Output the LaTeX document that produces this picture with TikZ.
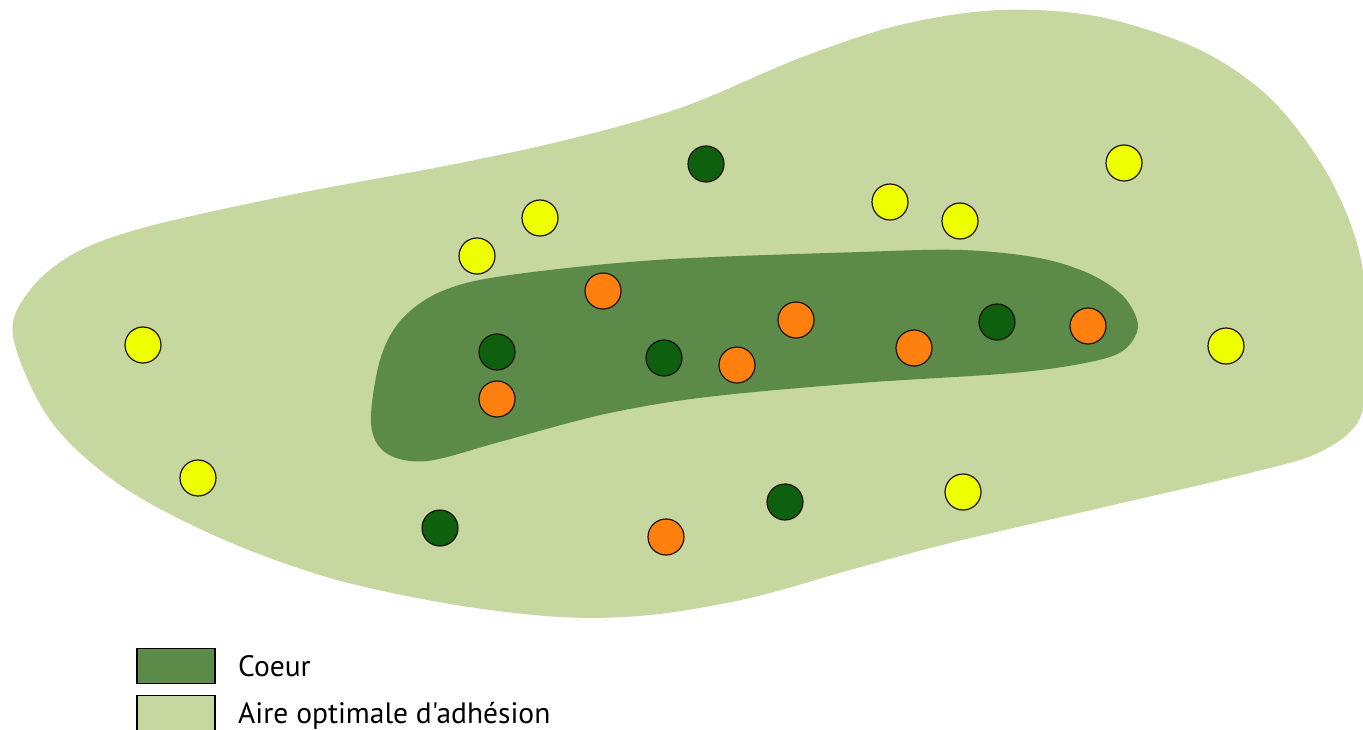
\documentclass[tikz,border=0pt]{standalone}
\usepackage{fontspec}
\newfontfamily\legfont{PT Sans}[Ligatures=TeXOff]
\definecolor{aire}{HTML}{C6D7A0}
\definecolor{coeur}{HTML}{5C8A48}
\definecolor{dgreen}{HTML}{0E5F0E}
\definecolor{orangec}{HTML}{FF7F0F}
\definecolor{yellowc}{HTML}{EEFF00}
\tikzset{
  dot/.style={circle, minimum size=36pt, inner sep=0pt, draw=black!85!brown, line width=1.2pt},
  ydot/.style={dot, fill=yellowc},
  gdot/.style={dot, fill=dgreen},
  odot/.style={dot, fill=orangec},
  legbox/.style={draw=black, line width=1.6pt, minimum width=78pt, minimum height=35pt, inner sep=0pt},
  legtext/.style={anchor=base west, font=\legfont\fontsize{29.5}{34}\selectfont, inner sep=0pt}
}
\begin{document}
\begin{tikzpicture}[x=1pt, y=-1pt]
\useasboundingbox (0,0) rectangle (1363,730);
% outer area
\fill[aire] plot[smooth cycle, tension=0.55] coordinates {
  (13,336) (30,290) (75,253) (150,226) (300,193) (450,165) (566,140) (683,107)
  (800,58) (900,25) (1000,10) (1100,17) (1200,50) (1272,100) (1328,175)
  (1360,255) (1368,350) (1360,418) (1320,452) (1250,473) (1100,508) (950,543)
  (850,570) (750,598) (650,615) (560,617) (450,604) (330,578) (220,538)
  (120,485) (50,420)};
% core area
\fill[coeur] plot[smooth cycle, tension=0.55] coordinates {
  (401,320) (440,292) (503,276) (656,260) (860,252) (962,250) (1039,258)
  (1090,274) (1124,297) (1138,326) (1124,350) (1090,362) (1013,373) (860,383)
  (707,397) (605,414) (503,441) (427,461) (386,453) (371,423) (380,360)};
% yellow dots
\node[ydot] (y1) at (143,345) {};
\node[ydot] (y2) at (198,478) {};
\node[ydot] (y3) at (477,256) {};
\node[ydot] (y4) at (540,218) {};
\node[ydot] (y5) at (890,202) {};
\node[ydot] (y6) at (960,221) {};
\node[ydot] (y7) at (1124,163) {};
\node[ydot] (y8) at (1226,346) {};
\node[ydot] (y9) at (963,492) {};
% dark green dots
\node[gdot] (g1) at (706,164) {};
\node[gdot] (g2) at (497,352) {};
\node[gdot] (g3) at (664,358) {};
\node[gdot] (g4) at (997,322) {};
\node[gdot] (g5) at (440,528) {};
\node[gdot] (g6) at (785,502) {};
% orange dots
\node[odot] (o1) at (603,291) {};
\node[odot] (o2) at (497,399) {};
\node[odot] (o3) at (737,365) {};
\node[odot] (o4) at (796,320) {};
\node[odot] (o5) at (914,348) {};
\node[odot] (o6) at (1088,326) {};
\node[odot] (o7) at (666,537) {};
% legend
\node[legbox, fill=coeur] (lc) at (176,666) {};
\node[legbox, fill=aire] (la) at (176,713) {};
\node[legtext] (tc) at (238,676) {Coeur};
\node[legtext] (ta) at (238,723) {Aire optimale d'adhésion};
\end{tikzpicture}
\end{document}
